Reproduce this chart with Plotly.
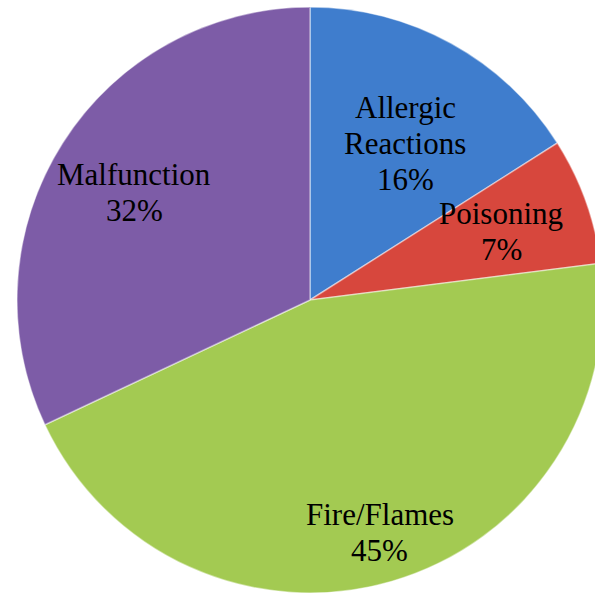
import math
import plotly.graph_objects as go

# ---- data ----
categories = ["Allergic Reactions", "Poisoning", "Fire/Flames", "Malfunction"]
label_lines = [["Allergic", "Reactions"], ["Poisoning"], ["Fire/Flames"], ["Malfunction"]]
values = [16, 7, 45, 32]

# ---- style ----
colors = ["#3F7DCD", "#D7473D", "#A3CA52", "#7D5CA7"]
label_radius_frac = [0.625, 0.694, 0.83, 0.703]
label_angle_nudge = [2.5, 0.0, -0.5, -1.0]
FONT = dict(family="Liberation Serif, Times New Roman, serif", size=31, color="black")
LINE_PITCH = 36

W, H = 610, 596
CX, CY, R = 310, 300, 293  # pie centre / radius in pixels

fig = go.Figure()
fig.add_trace(go.Pie(
    labels=categories,
    values=values,
    sort=False,
    direction="clockwise",
    rotation=0,
    textinfo="none",
    hoverinfo="label+percent",
    marker=dict(colors=colors, line=dict(color="rgba(255,255,255,0.45)", width=1.5)),
    domain=dict(x=[(CX - R) / W, (CX + R) / W],
                y=[1 - (CY + R) / H, 1 - (CY - R) / H]),
    showlegend=False,
))

total = sum(values)
cum = 0
annotations = []
for i, v in enumerate(values):
    mid = (cum + v / 2) / total * 360 + label_angle_nudge[i]
    cum += v
    rr = R * label_radius_frac[i]
    px = CX + rr * math.sin(math.radians(mid))
    py = CY - rr * math.cos(math.radians(mid))
    pct = round(v / total * 100)
    lines = label_lines[i] + [f"{pct}%"]
    n = len(lines)
    for k, line in enumerate(lines):
        ly = py + (k - (n - 1) / 2) * LINE_PITCH
        annotations.append(dict(
            x=px / W, y=1 - ly / H, xref="paper", yref="paper",
            text=line, showarrow=False,
            xanchor="center", yanchor="middle", align="center",
            font=FONT,
        ))

fig.update_layout(
    width=W, height=H,
    margin=dict(l=0, r=0, t=0, b=0),
    paper_bgcolor="white",
    plot_bgcolor="white",
    annotations=annotations,
)

fig.write_html(
    "out.html",
    config={"displayModeBar": False},
    post_script="document.body.style.margin='0';document.body.style.overflow='hidden';",
)
